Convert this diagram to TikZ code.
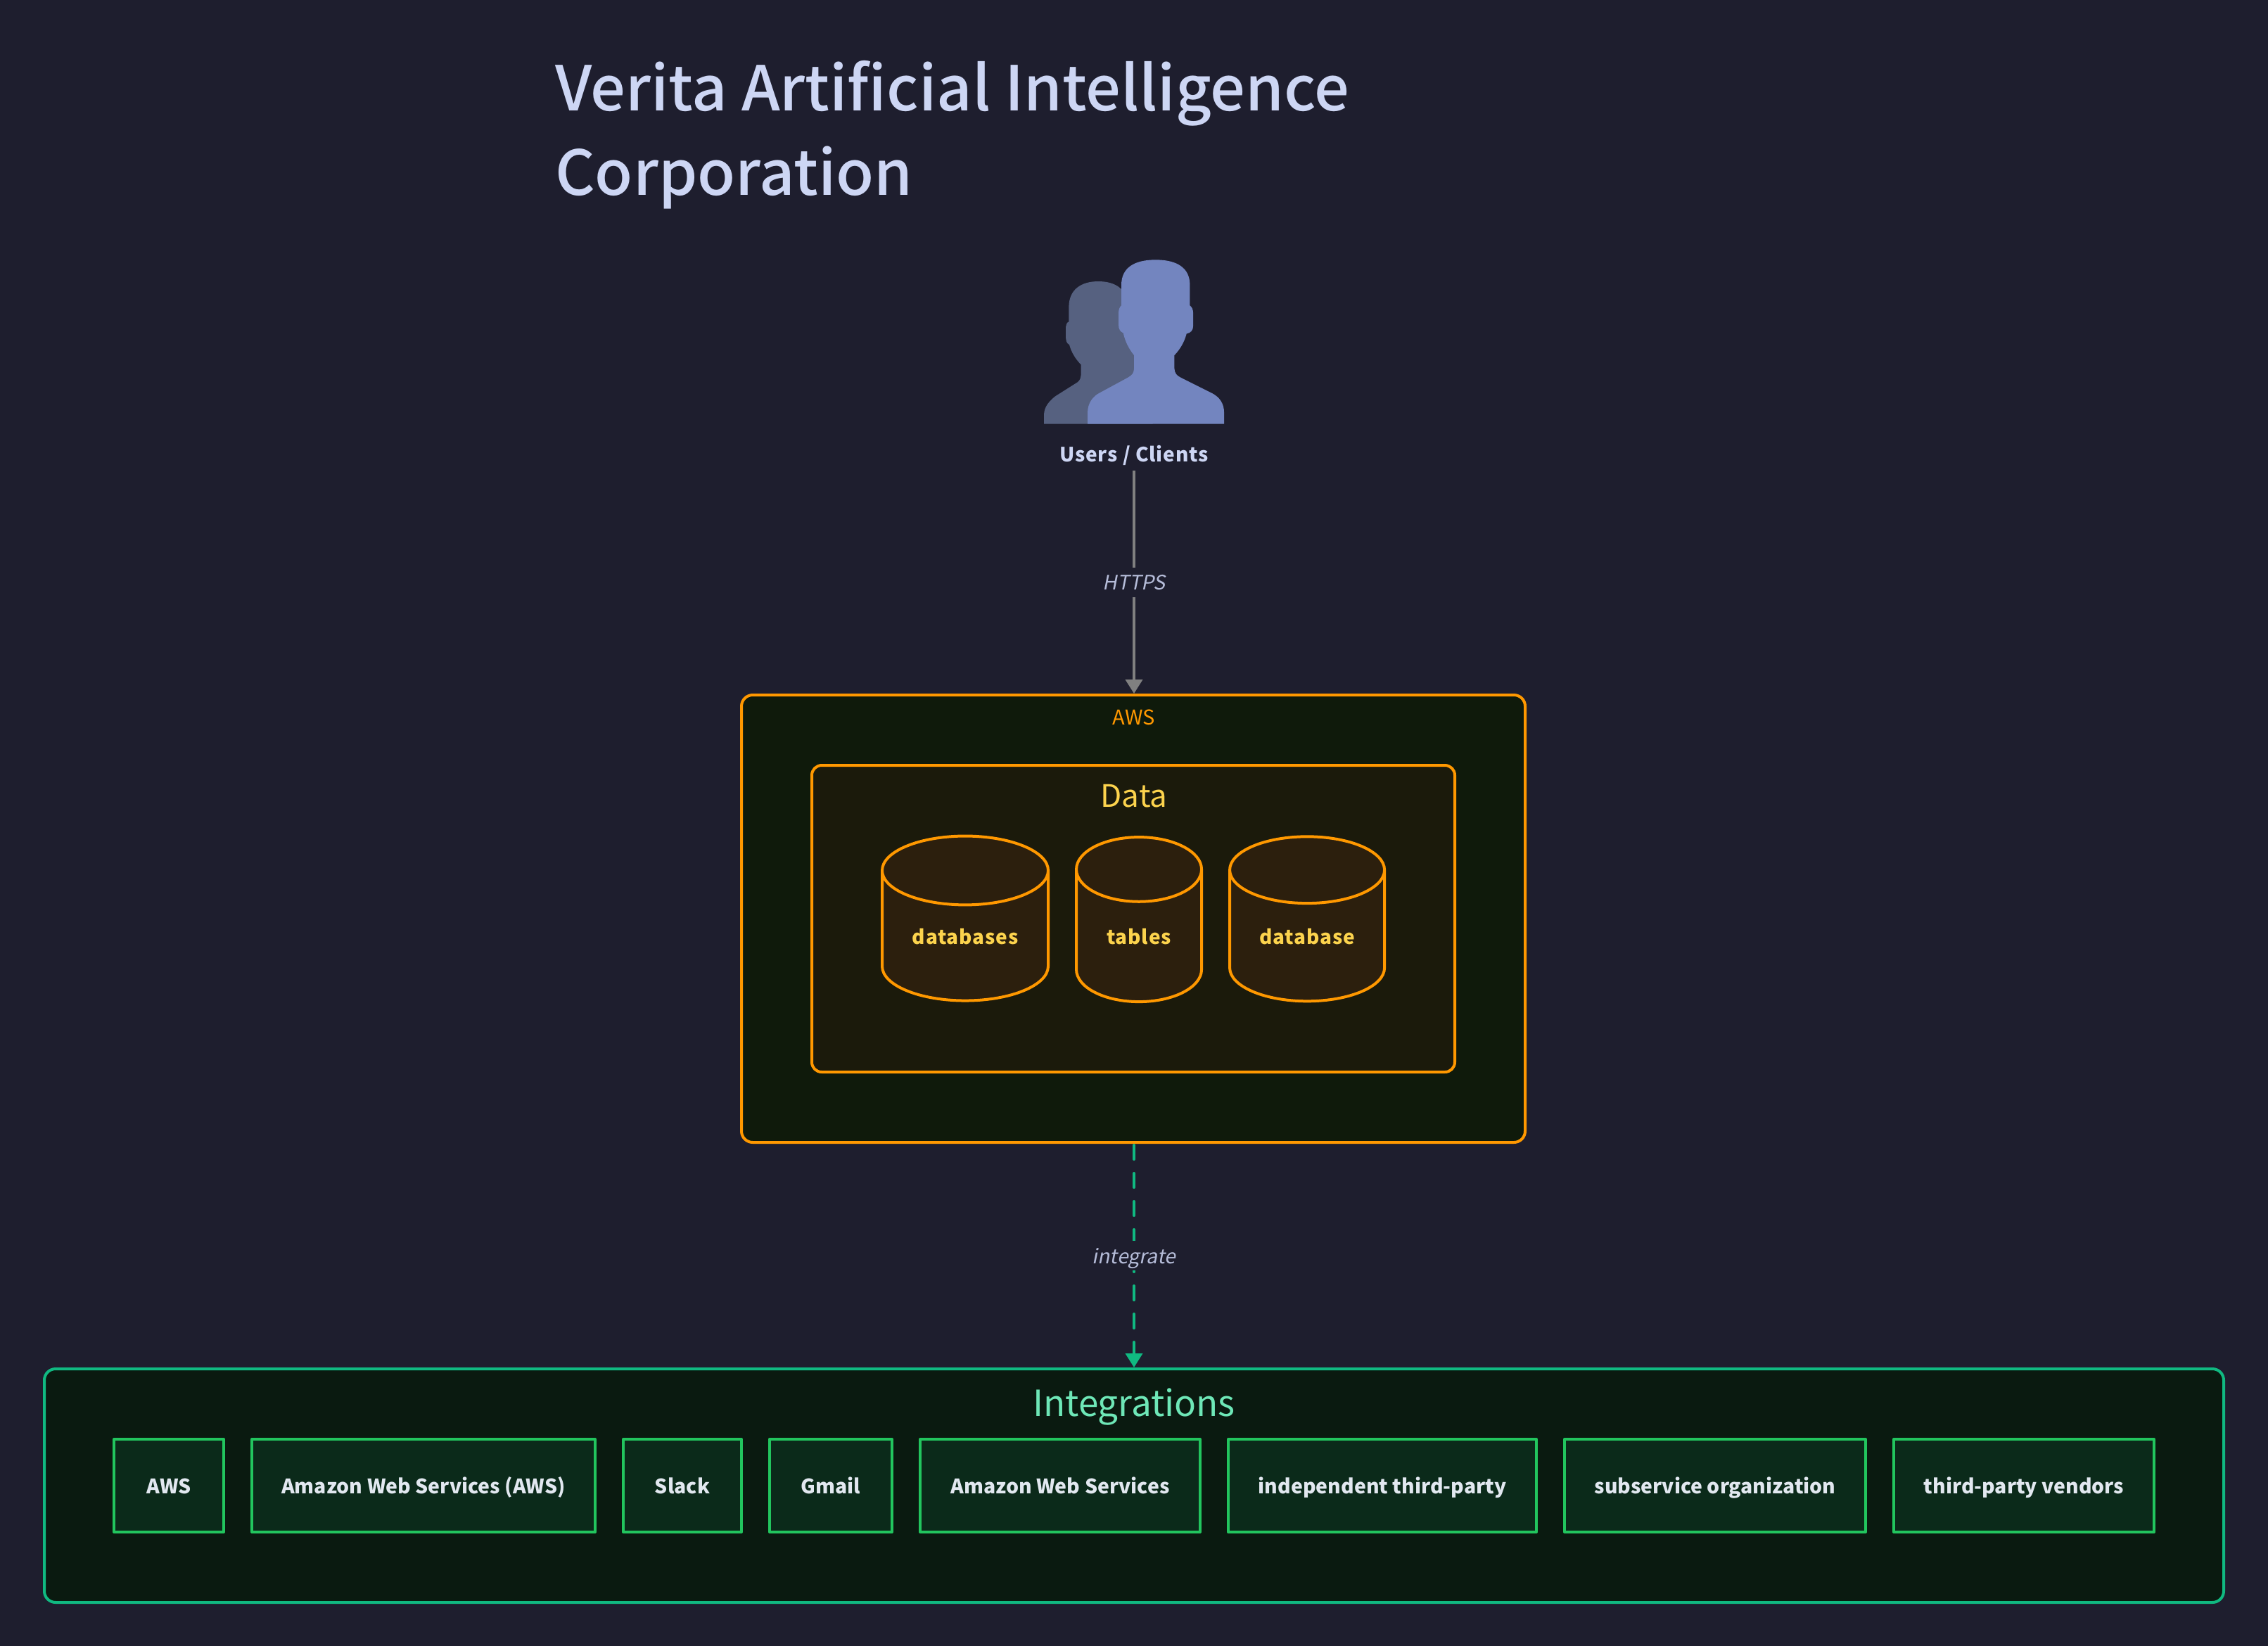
\documentclass[tikz,border=0pt]{standalone}
\usepackage{fontspec}
\setmainfont{Noto Sans CJK SC}
\newfontfamily\headfont{Noto Sans CJK SC Medium}
\newfontfamily\slantfont[FakeSlant=0.2]{Noto Sans CJK SC}
\newfontfamily\trackfont[LetterSpace=3]{Noto Sans CJK SC}
\usepackage{tikz}
\usetikzlibrary{positioning,arrows.meta,shapes.geometric}

\definecolor{bgdark}{HTML}{1E1E2E}
\definecolor{titleblue}{HTML}{CDD6F4}
\definecolor{awsorange}{HTML}{FF9800}
\definecolor{awsfill}{HTML}{0F1A0B}
\definecolor{datafill}{HTML}{1B1A0B}
\definecolor{dbfill}{HTML}{2C1F0D}
\definecolor{dbtext}{HTML}{FCD34D}
\definecolor{intedge}{HTML}{10B981}
\definecolor{intfill}{HTML}{0A1A10}
\definecolor{svcedge}{HTML}{22C55E}
\definecolor{svcfill}{HTML}{0B2A1A}
\definecolor{svctext}{HTML}{E2E8F0}
\definecolor{inttitle}{HTML}{6EE7B7}
\definecolor{edgelabel}{HTML}{B5BCD8}
\definecolor{arrowgray}{HTML}{808080}
\definecolor{userfront}{HTML}{7385BF}
\definecolor{userback}{HTML}{566180}

\begin{document}
\begin{tikzpicture}[x=1pt, y=-1pt, >={Triangle[length=10pt, width=12pt]}, node distance=20pt]
	\tikzstyle{cluster} = [draw, line width=2pt, rectangle, rounded corners=8pt, inner sep=0pt]
	\tikzstyle{service} = [draw=svcedge, fill=svcfill, line width=2pt, line join=round, outer sep=0pt, minimum height=66pt, inner sep=0pt, text height=12pt, text depth=1pt, text=svctext, font=\fontsize{14.2}{18}\selectfont\bfseries]
	\tikzstyle{store} = [draw=awsorange, fill=dbfill, line width=2pt, outer sep=0pt, cylinder, shape border rotate=90, minimum height=117pt, inner sep=0pt, text=dbtext, font=\fontsize{14}{18}\trackfont\bfseries]
	\tikzstyle{flow} = [font=\fontsize{14.2}{16}\slantfont, text=edgelabel, fill=bgdark, inner sep=0pt, text height=11pt, text depth=0pt, minimum height=21pt]

	\useasboundingbox (0,0) rectangle (1612,1170);
	\fill[bgdark] (0,0) rectangle (1612,1170);

	\node[anchor=west, text=titleblue, font=\fontsize{44}{60}\headfont, align=left] (title) at (391,96) {Verita Artificial Intelligence\\Corporation};

	% users icon
	\begin{scope}[shift={(700,170)}, x=0.1667pt, y=-0.1667pt]
		\fill[userback] (252,788) -- (252,750) .. controls (252,715) and (275,690) .. (300,670)
			-- (395,610) .. controls (406,602) and (410,590) .. (410,570) -- (410,535)
			.. controls (385,510) and (368,480) .. (360,450) .. controls (350,445) and (345,435) .. (345,415)
			-- (345,375) .. controls (345,365) and (350,355) .. (358,352) -- (358,290)
			.. controls (358,215) and (410,180) .. (484,180) .. controls (558,180) and (610,215) .. (610,290)
			-- (640,500) -- (716,788) -- cycle;
		\fill[userfront] (438,788) -- (438,740) .. controls (438,700) and (460,670) .. (490,655)
			-- (610,590) .. controls (628,580) and (636,570) .. (636,550) -- (636,495)
			.. controls (612,465) and (598,435) .. (590,400) .. controls (578,395) and (570,385) .. (570,365)
			-- (570,315) .. controls (570,300) and (575,288) .. (582,283) -- (582,195)
			.. controls (582,120) and (640,88) .. (728,88) .. controls (816,88) and (874,120) .. (874,195)
			-- (874,283) .. controls (882,288) and (888,300) .. (888,315) -- (888,370)
			.. controls (888,388) and (878,400) .. (860,403) .. controls (850,440) and (832,470) .. (808,495)
			-- (808,550) .. controls (808,570) and (818,582) .. (835,590) -- (965,655)
			.. controls (1000,672) and (1020,700) .. (1020,740) -- (1020,788) -- cycle;
	\end{scope}

	\path
	node[text=titleblue, font=\fontsize{14}{18}\trackfont\bfseries, inner sep=0pt, outer sep=0pt, minimum height=22pt] (users) at (806,323.5) {Users / Clients}
	node[cluster, draw=awsorange, fill=awsfill, minimum width=557pt, minimum height=318pt] (aws) at (805.5,653) {}
	node[cluster, rounded corners=7pt, draw=awsorange, fill=datafill, minimum width=457pt, minimum height=218pt] (data) at (805.5,653) {}
	node[cluster, draw=intedge, fill=intfill, minimum width=1549pt, minimum height=166pt] (integrations) at (806,1056) {}

	node[text=awsorange, font=\fontsize{14.5}{16}\selectfont] (awstitle) at (806,510) {AWS}
	node[text=dbtext, font=\fontsize{22}{26}\selectfont] (datatitle) at (806,566) {Data}
	node[text=inttitle, font=\fontsize{25.6}{30}\selectfont] (inttitle) at (806,1000) {Integrations}

	node[store, minimum width=118pt, aspect=0.65] (databases) at (686,665.5) {databases}
	node[store, minimum width=89pt, aspect=1.0, right=20pt of databases] (tables) {tables}
	node[store, minimum width=110pt, aspect=0.70, right=20pt of tables] (database) {database}

	node[service, minimum width=78pt] (svca) at (120,1056) {AWS}
	node[service, minimum width=244pt, right=of svca] (svcb) {Amazon Web Services (AWS)}
	node[service, minimum width=84pt, right=of svcb] (svcc) {Slack}
	node[service, minimum width=87pt, right=of svcc] (svcd) {Gmail}
	node[service, minimum width=199pt, right=of svcd] (svce) {Amazon Web Services}
	node[service, minimum width=219pt, right=of svce] (svcf) {independent third-party}
	node[service, minimum width=214pt, right=of svcf] (svcg) {subservice organization}
	node[service, minimum width=185pt, right=of svcg] (svch) {third-party vendors}
	;

	\draw[->, arrowgray, line width=2pt] (users) -- node[flow] {HTTPS} (users |- aws.north);
	\draw[->, intedge, line width=2pt, line cap=round, dash pattern=on 10pt off 10pt, dash phase=19pt] (users |- aws.south) -- node[flow] {integrate} (integrations);
\end{tikzpicture}
\end{document}
